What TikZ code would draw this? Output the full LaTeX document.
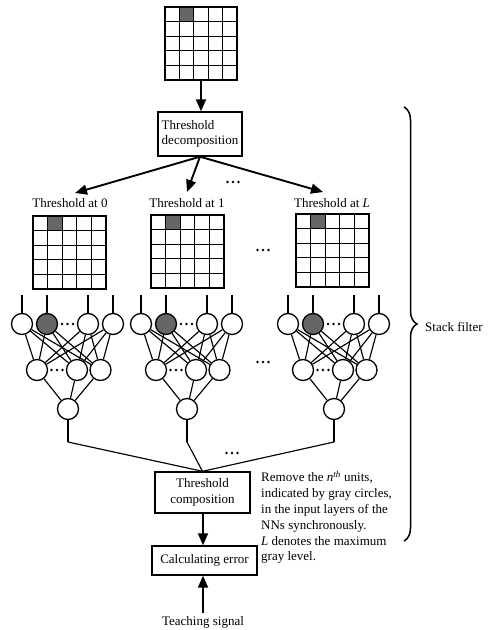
\documentclass[tikz,border=0pt]{standalone}
\usepackage{fontspec}
\setmainfont{Liberation Serif}
\usetikzlibrary{arrows.meta,decorations.pathreplacing}
\tikzset{
  unit/.style={circle, draw, line width=1.3pt, minimum size=21pt, inner sep=0pt},
  grayunit/.style={unit, fill=black!60},
  box/.style={draw, line width=1.4pt, inner sep=0pt, font=\fontsize{13}{15.5}\selectfont},
  lbl/.style={font=\fontsize{13}{15.8}\selectfont, inner sep=0pt},
  arr/.style={line width=1.9pt, -{Triangle[length=12pt,width=10pt]}},
  wire/.style={line width=1.15pt},
  gridline/.style={line width=1.3pt},
  cellfill/.style={fill=black!60},
  bracestyle/.style={line width=1.5pt, decorate, decoration={brace, amplitude=13pt}}
}
% grid: name, x, y, w, h
\newcommand\imgrid[5]{%
  \fill[cellfill] ({#2+#4/5},#3) rectangle ({#2+2*#4/5},{#3+#5/5});
  \foreach \i in {1,...,4} {
    \draw[gridline] ({#2+\i*#4/5},#3) -- ({#2+\i*#4/5},{#3+#5});
    \draw[gridline] (#2,{#3+\i*#5/5}) -- ({#2+#4},{#3+\i*#5/5});
  }
  \node[draw, line width=1.6pt, minimum width=#4pt, minimum height=#5pt,
        anchor=north west, inner sep=0pt, outer sep=0pt] (#1) at (#2,#3) {};
}
\newcommand\threedots[2]{%
  \foreach \d in {-5.5,0,5.5} \fill ({#1+\d},#2) circle (1.4pt);
}
% net: prefix, output x
\newcommand\nnet[2]{%
  \node[unit]     (#1i1) at ({#2-46},324) {};
  \node[grayunit] (#1i2) at ({#2-21},324) {};
  \node[unit]     (#1i3) at ({#2+20},324) {};
  \node[unit]     (#1i4) at ({#2+45},324) {};
  \node[unit]     (#1h1) at ({#2-31},370) {};
  \node[unit]     (#1h2) at ({#2+9},370) {};
  \node[unit]     (#1h3) at ({#2+32.5},370) {};
  \node[unit]     (#1o)  at (#2,409) {};
  \coordinate (#1t1) at ({#2-46},295);
  \coordinate (#1t2) at ({#2-21},295);
  \coordinate (#1t3) at ({#2+20},295);
  \coordinate (#1t4) at ({#2+45},295);
  \coordinate (#1e) at (#2,442);
  \foreach \a in {1,...,4} {
    \draw[wire] (#1t\a) -- (#1i\a);
    \foreach \b in {1,2,3} \draw[wire] (#1i\a) -- (#1h\b);
  }
  \foreach \b in {1,2,3} \draw[wire] (#1h\b) -- (#1o);
  \draw[wire] (#1o) -- (#1e);
  \threedots{#2-0.5}{324}
  \threedots{#2-11}{370}
}
\begin{document}
\begin{tikzpicture}[x=1pt,y=-1pt]
\useasboundingbox (0,0) rectangle (488,630);

% input image
\imgrid{top}{165}{7}{72}{73}

% threshold decomposition
\node[box, minimum width=84pt, minimum height=44pt, align=left] (dec) at (200,134) {Threshold\\decomposition};
\draw[arr] (top.south) -- (top.south |- dec.north);

% thresholded images
\coordinate (a0) at (75,193);
\coordinate (a1) at (187,192);
\coordinate (aL) at (323,192);
\draw[arr] (dec.south) -- (a0);
\draw[arr] (dec.south) -- (a1);
\draw[arr] (dec.south) -- (aL);
\threedots{233}{182}

\node[lbl] (l0) at (70,203) {Threshold at 0};
\node[lbl] (l1) at (187,203) {Threshold at 1};
\node[lbl] (lL) at (332,203) {Threshold at \textit{L}};

\imgrid{g0}{33}{216}{73}{73}
\imgrid{g1}{151}{215}{73}{73}
\imgrid{gL}{296}{214}{73}{73}
\threedots{263}{250}

% neural networks
\nnet{A}{68}
\nnet{B}{187}
\nnet{C}{334}
\threedots{263}{362}

% threshold composition
\node[box, minimum width=95pt, minimum height=41pt, align=center] (comp) at (202.5,492.5) {Threshold\\composition};
\draw[wire] (Ae) -- (comp.north);
\draw[wire] (Be) -- (comp.north);
\draw[wire] (Ce) -- (comp.north);
\threedots{232}{453}

% calculating error
\node[box, minimum width=105pt, minimum height=29pt] (calc) at (204.5,560.5) {Calculating error};
\draw[arr] (comp.south -| 203,0) -- (calc.north -| 203,0);
\node[lbl] (teach) at (203,622) {Teaching signal};
\coordinate (ts) at (203,613);
\draw[arr] (ts) -- (calc.south -| ts);

% note
\node[lbl, anchor=north west, align=left] (note) at (261,471)
  {Remove the \textit{n}\textsuperscript{\textit{th}} units,\\
   indicated by gray circles,\\
   in the input layers of the\\
   NNs synchronously.\\
   \textit{L} denotes the maximum\\
   gray level.};

% brace
\coordinate (bt) at (404,107);
\coordinate (bb) at (404,541);
\draw[bracestyle] (bt) -- (bb);
\node[lbl, anchor=west] (sf) at (425,327) {Stack filter};
\end{tikzpicture}
\end{document}
